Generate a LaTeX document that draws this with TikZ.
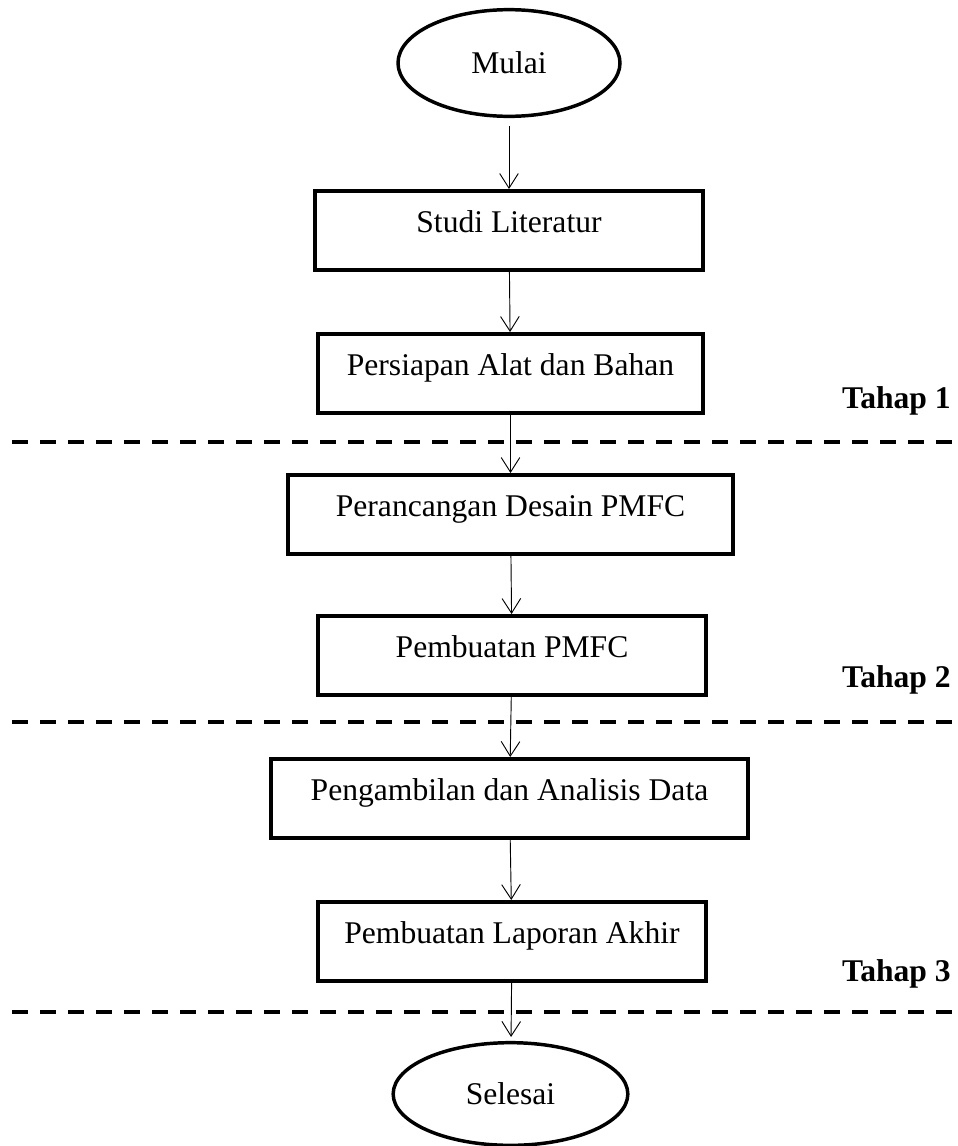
\documentclass[tikz,border=0pt]{standalone}
\usepackage{fontspec}
\setmainfont{Liberation Serif}
\usetikzlibrary{shapes.geometric,arrows.meta}
\begin{document}
\begin{tikzpicture}[x=0.75pt,y=-0.75pt,
  kotak/.style={draw,line width=2.7pt,anchor=north,inner xsep=0pt,inner ysep=0pt,
    text height=31.5pt,text depth=28pt},
  oval/.style={draw,ellipse,line width=2.6pt,inner sep=0pt},
  panah/.style={line width=0.7pt,-{Straight Barb[length=11pt,width=14pt]}},
  batas/.style={line width=3pt,dash pattern=on 12pt off 9pt},
  tahap/.style={anchor=base east,inner sep=0pt,font=\bfseries}]
  \useasboundingbox (0,0) rectangle (957,1146);
  \fontsize{23.7}{28}\selectfont
  \node[oval,minimum width=166.5pt,minimum height=80pt] (mulai) at (509,63) {Mulai};
  \node[kotak,minimum width=291pt] (studi) at (509,189) {Studi Literatur};
  \node[kotak,minimum width=289pt] (persiapan) at (510.5,332) {Persiapan Alat dan Bahan};
  \node[kotak,minimum width=334pt] (desain) at (510.5,473) {Perancangan Desain PMFC};
  \node[kotak,minimum width=291pt] (pembuatan) at (512,614) {Pembuatan PMFC};
  \node[kotak,minimum width=358pt] (data) at (509.5,757) {Pengambilan dan Analisis Data};
  \node[kotak,minimum width=291pt] (laporan) at (512,900) {Pembuatan Laporan Akhir};
  \node[oval,minimum width=176pt,minimum height=77pt] (selesai) at (510.5,1094) {Selesai};
  % batas tahap
  \draw[batas] (12,442) -- (957,442);
  \draw[batas] (12,722) -- (957,722);
  \draw[batas] (12,1012) -- (957,1012);
  \node[tahap] (t1) at (951,408) {Tahap 1};
  \node[tahap] (t2) at (951,687) {Tahap 2};
  \node[tahap] (t3) at (951,981) {Tahap 3};
  % alur
  \draw[panah,shorten <=6pt] (mulai) -- (studi);
  \draw[panah] (studi) -- (persiapan);
  \draw[panah] (persiapan) -- (desain);
  \draw[panah] (desain) -- (pembuatan);
  \draw[panah] (pembuatan) -- (data);
  \draw[panah] (data) -- (laporan);
  \draw[panah,shorten >=3pt] (laporan) -- (selesai);
\end{tikzpicture}
\end{document}
